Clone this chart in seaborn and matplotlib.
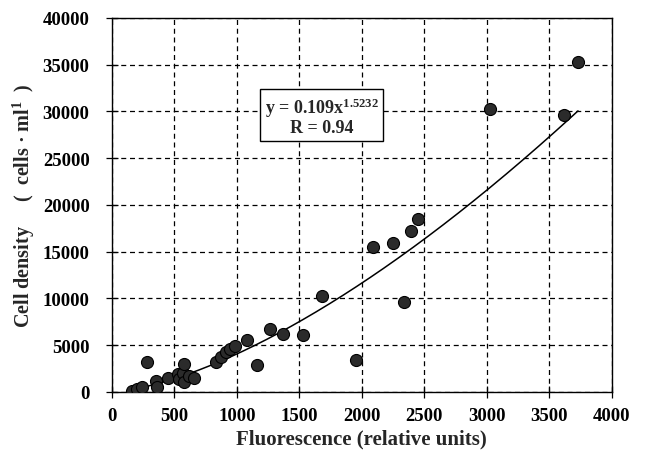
import numpy as np
import pandas as pd
import matplotlib
matplotlib.use("Agg")
import matplotlib.pyplot as plt
import seaborn as sns

# ---- data ----
fluorescence = [164, 204, 244, 285, 351, 365, 446, 526, 540, 567, 580, 580, 621, 661,
                837, 874, 916, 942, 982, 1079, 1158, 1264, 1369, 1527, 1683, 1951,
                2088, 2252, 2340, 2397, 2448, 3024, 3616, 3728]
cell_density = [100, 290, 470, 3230, 1110, 470, 1430, 1880, 1350, 2060, 2950, 1000, 1700, 1430,
                3220, 3680, 4290, 4570, 4930, 5560, 2870, 6700, 6170, 6100, 10260, 3400,
                15460, 15970, 9570, 17150, 18500, 30200, 29570, 35320]
fit_a = 0.109
fit_b = 1.5232
fit_r = 0.94
x_ticks = [0, 500, 1000, 1500, 2000, 2500, 3000, 3500, 4000]
y_ticks = [0, 5000, 10000, 15000, 20000, 25000, 30000, 35000, 40000]

df = pd.DataFrame({"x": fluorescence, "y": cell_density})
xf = np.linspace(150, 3730, 300)
fit = pd.DataFrame({"x": xf, "y": fit_a * xf ** fit_b})

sns.set_style("ticks")
plt.rcParams["font.family"] = ["Liberation Serif", "DejaVu Serif"]
plt.rcParams["font.weight"] = "bold"
plt.rcParams["mathtext.fontset"] = "custom"
plt.rcParams["mathtext.rm"] = "Liberation Serif:bold"
plt.rcParams["mathtext.it"] = "Liberation Serif:bold"
plt.rcParams["mathtext.bf"] = "Liberation Serif:bold"

fig = plt.figure(figsize=(6.46, 4.60), dpi=100)
ax = fig.add_axes([0.173, 0.146, 0.774, 0.813])

ax.set_xlim(0, 4000)
ax.set_ylim(0, 40000)
ax.set_xticks(x_ticks)
ax.set_yticks(y_ticks)
ax.set_xticklabels([str(v) for v in x_ticks], fontsize=13.5, fontweight="bold")
ax.set_yticklabels([str(v) for v in y_ticks], fontsize=13.5, fontweight="bold")

ax.grid(True, color="black", linestyle=(0, (4, 3)), linewidth=0.9)
ax.set_axisbelow(True)

sns.lineplot(data=fit, x="x", y="y", ax=ax, color="black", linewidth=1.1, zorder=3)
sns.scatterplot(data=df, x="x", y="y", ax=ax, s=75, color="#2b2b2b",
                edgecolor="black", linewidth=0.8, zorder=4)

for sp in ax.spines.values():
    sp.set_visible(True)
    sp.set_color("black")
    sp.set_linewidth(1.0)

ax.tick_params(axis="both", direction="inout", length=8, width=0.9, color="black",
               labelcolor="black")
ax.tick_params(axis="y", pad=12)
ax.tick_params(axis="x", pad=7)

ax.set_xlabel("Fluorescence (relative units)", fontsize=15, fontweight="bold", labelpad=3)
ax.set_ylabel("Cell density     (  cells · ml$^{1}$  )", fontsize=14.5, fontweight="bold", labelpad=4)

ax.text(0.42, 0.738, "y = 0.109x$^{1.5232}$\nR = 0.94", transform=ax.transAxes,
        ha="center", va="center", fontsize=13, fontweight="bold", linespacing=1.0,
        bbox=dict(boxstyle="square,pad=0.25", facecolor="white", edgecolor="black", linewidth=1.0),
        zorder=5)

fig.savefig("out.png", dpi=100)
